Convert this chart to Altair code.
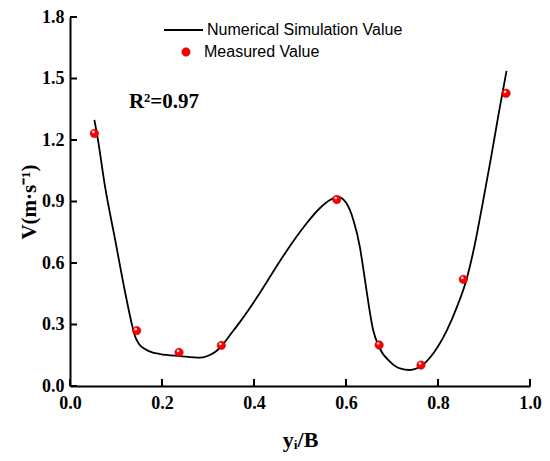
import altair as alt
import pandas as pd

# ---- data ----
meas_x = [0.053, 0.145, 0.237, 0.329, 0.580, 0.672, 0.763, 0.855, 0.948]
meas_y = [1.232, 0.270, 0.164, 0.198, 0.910, 0.200, 0.102, 0.520, 1.428]

sim_x = [0.053, 0.060, 0.076, 0.098, 0.120, 0.134, 0.141, 0.150, 0.163, 0.180,
         0.196, 0.239, 0.283, 0.304, 0.319, 0.333, 0.348, 0.370, 0.388, 0.413,
         0.4565, 0.485, 0.5145, 0.543, 0.565, 0.583, 0.601, 0.616, 0.630, 0.638,
         0.645, 0.659, 0.672, 0.696, 0.717, 0.739, 0.763, 0.790, 0.819, 0.841,
         0.862, 0.880, 0.897, 0.915, 0.932, 0.949]
sim_y = [1.298, 1.212, 0.975, 0.715, 0.455, 0.306, 0.245, 0.205, 0.180, 0.163,
         0.156, 0.146, 0.138, 0.151, 0.172, 0.205, 0.249, 0.314, 0.371, 0.455,
         0.610, 0.705, 0.794, 0.867, 0.907, 0.923, 0.891, 0.810, 0.680, 0.566,
         0.460, 0.273, 0.190, 0.118, 0.086, 0.078, 0.097, 0.160, 0.270, 0.385,
         0.520, 0.690, 0.890, 1.110, 1.330, 1.537]

x_ticks = [0.0, 0.2, 0.4, 0.6, 0.8, 1.0]
y_ticks = [0.0, 0.3, 0.6, 0.9, 1.2, 1.5, 1.8]

sim_name = "Numerical Simulation Value"
meas_name = "Measured Value"
r2_text = "R\u00b2=0.97"
x_title = "y\u1d62/B"
y_title = "V(m\u00b7s\u207b\u00b9)"

W, H = 460, 369
SERIF = "Liberation Serif"
SANS = "Liberation Sans"

sim_df = pd.DataFrame({"x": sim_x, "y": sim_y, "s": sim_name})
meas_df = pd.DataFrame({"x": meas_x, "y": meas_y, "m": meas_name})
xt_df = pd.DataFrame({"x": x_ticks})
yt_df = pd.DataFrame({"y": y_ticks})
r2_df = pd.DataFrame({"x": [0.128], "y": [1.387], "t": [r2_text]})

xs = alt.Scale(domain=[0, 1.0], nice=False, zero=False)
ys = alt.Scale(domain=[0, 1.8], nice=False, zero=False)

x_axis = alt.Axis(values=x_ticks, format=".1f", ticks=False, grid=False,
                  domainColor="black", domainWidth=2, labelFlush=False,
                  labelFont=SERIF, labelFontSize=18, labelFontWeight="bold",
                  labelColor="black", labelPadding=8,
                  title=x_title, titleFont=SERIF, titleFontSize=22,
                  titleFontWeight="bold", titleColor="black", titlePadding=17)
y_axis = alt.Axis(values=y_ticks, format=".1f", ticks=False, grid=False,
                  domainColor="black", domainWidth=2, labelFlush=False,
                  labelFont=SERIF, labelFontSize=18, labelFontWeight="bold",
                  labelColor="black", labelPadding=6,
                  title=y_title, titleFont=SERIF, titleFontSize=21,
                  titleFontWeight="bold", titleColor="black", titlePadding=2)

line = alt.Chart(sim_df).mark_line(interpolate="monotone", strokeWidth=1.8).encode(
    x=alt.X("x:Q", scale=xs, axis=x_axis),
    y=alt.Y("y:Q", scale=ys, axis=y_axis),
    color=alt.Color("s:N", scale=alt.Scale(domain=[sim_name], range=["black"]),
                    legend=alt.Legend(title=None, orient="none", legendX=93, legendY=-7.5,
                                      padding=0, symbolType="stroke", symbolSize=1521,
                                      symbolStrokeWidth=2, labelOffset=3, labelLimit=400,
                                      labelFont=SANS, labelFontSize=16, labelColor="black")),
)

pts = alt.Chart(meas_df).mark_circle(size=70, opacity=1, stroke="#b00000", strokeWidth=0.6).encode(
    x="x:Q",
    y="y:Q",
    fill=alt.Fill("m:N", scale=alt.Scale(domain=[meas_name], range=["#ff0000"]),
                  legend=alt.Legend(title=None, orient="none", legendX=108, legendY=27,
                                    padding=0, symbolType="circle", symbolSize=70,
                                    symbolStrokeColor="#b00000", symbolStrokeWidth=0.6,
                                    labelOffset=10, labelLimit=400,
                                    labelFont=SANS, labelFontSize=16, labelColor="black")),
)

hl = alt.Chart(meas_df).mark_circle(size=7, color="white", opacity=0.85,
                                    xOffset=-1, yOffset=-1.5).encode(x="x:Q", y="y:Q")

xticks = alt.Chart(xt_df).mark_rule(color="black", strokeWidth=2).encode(
    x="x:Q", y=alt.value(H), y2=alt.value(H - 7))
yticks = alt.Chart(yt_df).mark_rule(color="black", strokeWidth=2).encode(
    y="y:Q", x=alt.value(0), x2=alt.value(7))

r2 = alt.Chart(r2_df).mark_text(align="left", baseline="middle", font=SERIF,
                                fontSize=21, fontWeight="bold", color="black").encode(
    x="x:Q", y="y:Q", text="t:N")

chart = alt.layer(line, xticks, yticks, pts, hl, r2).properties(
    width=W, height=H,
    autosize=alt.AutoSizeParams(type="none"),
    padding={"left": 62, "top": 9, "right": 12, "bottom": 72},
    background="white",
).configure_view(stroke=None)

chart.save("out.html", embed_options={"renderer": "svg", "actions": False})
